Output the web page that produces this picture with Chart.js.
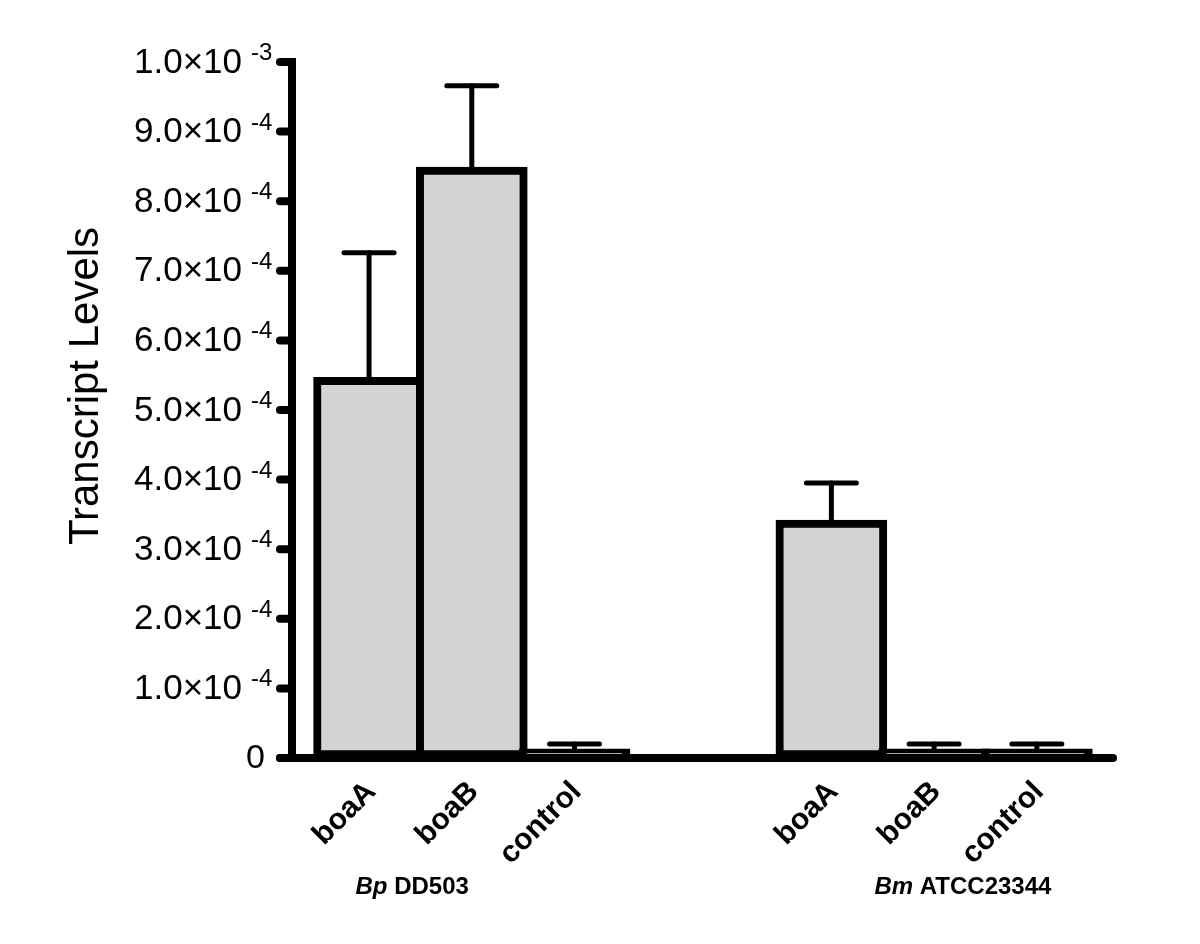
<!DOCTYPE html>
<html>
<head>
<meta charset="utf-8">
<script src="https://cdn.jsdelivr.net/npm/chart.js@4.4.0/dist/chart.umd.min.js"></script>
<style>
  html, body { margin: 0; padding: 0; background: #fff; }
  #wrap { width: 1200px; height: 944px; }
</style>
</head>
<body>
<div id="wrap"><canvas id="myChart" width="1200" height="944"></canvas></div>
<script>
// datos (valores medios y error superior)
const genes = ['boaA', 'boaB', 'control'];
const grupos = ['Bp DD503', 'Bm ATCC23344'];
const grupoCursiva = ['Bp', 'Bm'];
const bpMedia = [5.47e-4, 8.49e-4, 1.3e-5];
const bpError = [1.79e-4, 1.17e-4, 0.7e-5];
const bmMedia = [3.42e-4, 1.3e-5, 1.3e-5];
const bmError = [0.53e-4, 0.7e-5, 0.7e-5];
const yTicks = [0, 1e-4, 2e-4, 3e-4, 4e-4, 5e-4, 6e-4, 7e-4, 8e-4, 9e-4, 1e-3];
const yMantisa = ['0', '1.0', '2.0', '3.0', '4.0', '5.0', '6.0', '7.0', '8.0', '9.0', '1.0'];
const yExponente = ['', '-4', '-4', '-4', '-4', '-4', '-4', '-4', '-4', '-4', '-3'];

// posiciones en el eje x (el segundo grupo va separado)
const hueco = 2.5;
let puntos = [];
let errores = [];
let etiquetas = [];
bpMedia.forEach((v, i) => { puntos.push({ x: i, y: v }); errores.push(bpError[i]); etiquetas.push(genes[i]); });
bmMedia.forEach((v, i) => { puntos.push({ x: genes.length - 1 + hueco + i, y: v }); errores.push(bmError[i]); etiquetas.push(genes[i]); });
const centroGrupo = [0.42, 5.78];

const fuente = '"Liberation Sans", Arial, sans-serif';

const barrasError = {
    id: 'barrasError',
    afterDatasetsDraw(chart) {
        const ctx = chart.ctx;
        const xs = chart.scales.x, ys = chart.scales.y;
        ctx.save();
        ctx.strokeStyle = '#000';
        ctx.lineWidth = 5;
        ctx.lineCap = 'round';
        puntos.forEach((p, i) => {
            const cx = xs.getPixelForValue(p.x);
            const yb = ys.getPixelForValue(p.y);
            const yt = ys.getPixelForValue(p.y + errores[i]);
            ctx.beginPath();
            ctx.moveTo(cx, yb);
            ctx.lineTo(cx, yt);
            ctx.stroke();
            ctx.beginPath();
            ctx.moveTo(cx - 25, yt);
            ctx.lineTo(cx + 25, yt);
            ctx.stroke();
        });
        ctx.restore();
    }
};

const ejes = {
    id: 'ejes',
    afterDraw(chart) {
        const ctx = chart.ctx;
        const xs = chart.scales.x, ys = chart.scales.y;
        const x0 = xs.left, y0 = ys.bottom;
        ctx.save();
        ctx.strokeStyle = '#000';
        ctx.fillStyle = '#000';
        ctx.lineWidth = 8;

        // eje y
        ctx.lineCap = 'butt';
        ctx.beginPath();
        ctx.moveTo(x0, ys.top - 4);
        ctx.lineTo(x0, y0 + 4);
        ctx.stroke();
        ctx.lineCap = 'round';
        yTicks.forEach(t => {
            const y = ys.getPixelForValue(t);
            ctx.beginPath();
            ctx.moveTo(x0 - 12, y);
            ctx.lineTo(x0, y);
            ctx.stroke();
        });
        // eje x
        ctx.beginPath();
        ctx.moveTo(x0 - 12, y0);
        ctx.lineTo(xs.right - 4, y0);
        ctx.stroke();

        // etiquetas del eje y
        yTicks.forEach((t, i) => {
            const y = ys.getPixelForValue(t);
            ctx.textBaseline = 'middle';
            if (yExponente[i] === '') {
                ctx.font = '34px ' + fuente;
                ctx.textAlign = 'right';
                ctx.fillText(yMantisa[i], x0 - 27, y + 1);
            } else {
                ctx.font = '35px ' + fuente;
                ctx.textAlign = 'right';
                ctx.fillText(yMantisa[i] + '×10', x0 - 50, y + 1);
                ctx.font = '24px ' + fuente;
                ctx.textAlign = 'left';
                ctx.textBaseline = 'alphabetic';
                ctx.fillText(yExponente[i], x0 - 41, y - 2);
            }
        });

        // titulo del eje y
        ctx.save();
        ctx.translate(98, (ys.top + ys.bottom) / 2 - 24);
        ctx.rotate(-Math.PI / 2);
        ctx.font = '42px ' + fuente;
        ctx.textAlign = 'center';
        ctx.textBaseline = 'alphabetic';
        ctx.fillText('Transcript Levels', 0, 0);
        ctx.restore();

        // etiquetas del eje x
        ctx.font = 'bold 30px ' + fuente;
        puntos.forEach((p, i) => {
            const cx = xs.getPixelForValue(p.x);
            ctx.save();
            ctx.translate(cx + 8, y0 + 35);
            ctx.rotate(-Math.PI / 4);
            ctx.textAlign = 'right';
            ctx.textBaseline = 'alphabetic';
            ctx.fillText(etiquetas[i], 0, 0);
            ctx.restore();
        });

        // nombres de los grupos
        grupos.forEach((g, i) => {
            const resto = g.slice(grupoCursiva[i].length);
            ctx.font = 'italic bold 24px ' + fuente;
            const w1 = ctx.measureText(grupoCursiva[i]).width;
            ctx.font = 'bold 24px ' + fuente;
            const w2 = ctx.measureText(resto).width;
            const cx = xs.getPixelForValue(centroGrupo[i]);
            let x = cx - (w1 + w2) / 2;
            ctx.textAlign = 'left';
            ctx.textBaseline = 'alphabetic';
            ctx.font = 'italic bold 24px ' + fuente;
            ctx.fillText(grupoCursiva[i], x, y0 + 136);
            ctx.font = 'bold 24px ' + fuente;
            ctx.fillText(resto, x + w1, y0 + 136);
        });
        ctx.restore();
    }
};

const ctx = document.getElementById('myChart').getContext('2d');
const myChart = new Chart(ctx, {
    type: 'bar',
    data: {
        datasets: [{
            label: 'Transcript Levels',
            data: puntos,
            backgroundColor: '#d3d3d3',
            borderColor: '#000',
            borderWidth: 8,
            borderSkipped: false,
            barThickness: 111
        }]
    },
    options: {
        responsive: false,
        animation: false,
        layout: { padding: { left: 292, right: 83, top: 62, bottom: 186 } },
        plugins: {
            legend: { display: false },
            tooltip: { enabled: false }
        },
        scales: {
            x: { type: 'linear', display: false, offset: false, min: -0.75, max: 7.28 },
            y: { display: false, min: 0, max: 1e-3 }
        }
    },
    plugins: [barrasError, ejes]
});
</script>
</body>
</html>
